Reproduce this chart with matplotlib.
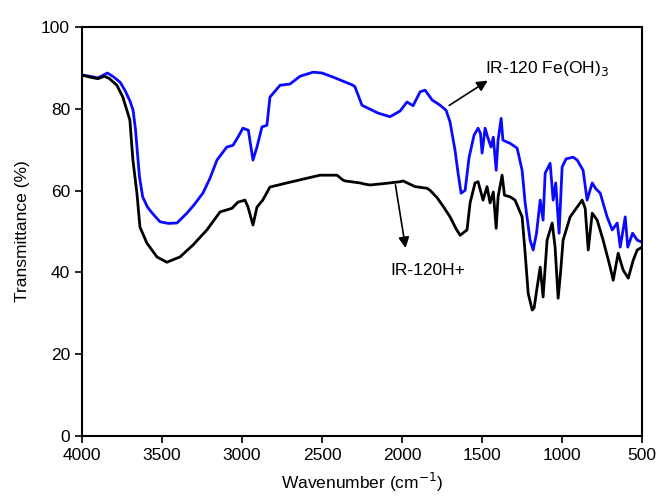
import matplotlib
matplotlib.use('Agg')
import matplotlib.pyplot as plt

plt.rcParams['font.family'] = ['Liberation Sans', 'DejaVu Sans']

## IR-120 Fe(OH)3 (blue)
wn_fe = [4000, 3950, 3900, 3870, 3840, 3800, 3760, 3730, 3700, 3680, 3665, 3650, 3640, 3620,
         3590, 3560, 3512, 3460, 3406, 3344, 3300, 3244, 3200, 3156, 3094, 3056, 3025, 2994,
         2960, 2945, 2931, 2906, 2875, 2844, 2825, 2790, 2762, 2700, 2637, 2556, 2500, 2431,
         2356, 2306, 2294, 2250, 2187, 2150, 2075, 2012, 1969, 1931, 1887, 1856, 1812, 1762,
         1725, 1700, 1669, 1650, 1631, 1606, 1581, 1550, 1525, 1510, 1500, 1481, 1465, 1444,
         1430, 1412, 1400, 1381, 1370, 1350, 1325, 1281, 1250, 1231, 1200, 1181, 1160, 1137,
         1119, 1106, 1075, 1056, 1040, 1019, 1000, 975, 931, 906, 869, 844, 812, 790, 762,
         719, 687, 656, 637, 606, 590, 560, 531, 500]
t_fe = [88.3, 88.0, 87.6, 88.2, 88.8, 87.8, 86.5, 84.5, 82.0, 79.7, 75.0, 68.0, 63.4, 58.5,
        56.0, 54.5, 52.4, 52.0, 52.1, 54.5, 56.5, 59.4, 63.0, 67.5, 70.7, 71.1, 73.1, 75.3,
        74.8, 71.0, 67.5, 70.7, 75.6, 76.0, 82.9, 84.5, 85.8, 86.1, 88.0, 89.0, 88.8, 87.8,
        86.6, 85.8, 85.4, 80.9, 79.7, 79.0, 78.1, 79.5, 81.7, 80.8, 84.2, 84.6, 82.2, 80.9,
        79.7, 76.8, 69.9, 64.3, 59.4, 60.1, 68.2, 73.6, 75.3, 74.0, 69.2, 75.3, 73.1, 70.7,
        73.1, 65.0, 72.4, 77.7, 72.4, 72.0, 71.6, 70.4, 65.0, 57.0, 47.9, 45.5, 49.6, 57.7,
        52.8, 64.3, 66.7, 57.7, 61.9, 49.6, 65.8, 67.8, 68.2, 67.5, 65.0, 57.7, 61.9, 60.5, 59.4,
        53.6, 50.4, 52.1, 46.2, 53.6, 46.2, 49.6, 47.9, 47.4]

## IR-120H+ (black)
wn_h = [4000, 3950, 3900, 3860, 3830, 3781, 3744, 3700, 3681, 3656, 3637, 3594, 3531, 3469,
        3387, 3306, 3219, 3137, 3062, 3025, 2981, 2962, 2931, 2906, 2870, 2825, 2719, 2600,
        2512, 2406, 2369, 2356, 2262, 2231, 2200, 2100, 2012, 1994, 1919, 1844, 1825, 1781,
        1740, 1700, 1660, 1637, 1594, 1575, 1544, 1525, 1494, 1469, 1450, 1430, 1412, 1400,
        1375, 1360, 1325, 1294, 1250, 1231, 1212, 1187, 1175, 1156, 1137, 1119, 1094, 1062,
        1044, 1025, 1010, 994, 950, 906, 875, 856, 837, 812, 781, 744, 700, 681, 650, 619,
        587, 556, 531, 500]
t_h = [88.3, 87.8, 87.4, 88.0, 87.5, 85.8, 82.9, 77.3, 67.5, 59.4, 51.1, 47.2, 43.8, 42.5,
       43.8, 46.7, 50.4, 54.8, 55.7, 57.2, 57.7, 56.0, 51.6, 56.0, 57.7, 60.9, 61.9, 63.0,
       63.8, 63.8, 62.6, 62.4, 61.9, 61.6, 61.4, 61.8, 62.2, 62.4, 61.0, 60.6, 60.1, 58.3,
       56.0, 53.6, 50.5, 49.1, 50.4, 57.0, 61.9, 62.2, 57.7, 61.0, 57.0, 59.7, 50.8, 58.5,
       63.8, 58.9, 58.5, 57.7, 53.6, 44.7, 34.9, 30.8, 31.3, 36.4, 41.3, 34.0, 47.9, 52.1,
       46.2, 33.7, 39.9, 47.9, 53.6, 56.0, 57.7, 55.7, 45.5, 54.5, 52.8, 47.9, 41.3, 38.1,
       44.7, 40.6, 38.6, 43.0, 45.5, 46.2]

fig = plt.figure(figsize=(6.6, 5.04), dpi=100)
ax = fig.add_axes([0.124, 0.135, 0.849, 0.811])

ax.plot(wn_fe, t_fe, color='#0a0aff', lw=2.0)
ax.plot(wn_h, t_h, color='black', lw=2.0)

ax.set_xlim(4000, 500)
ax.set_ylim(0, 100)
ax.set_xticks([4000, 3500, 3000, 2500, 2000, 1500, 1000, 500])
ax.set_yticks([0, 20, 40, 60, 80, 100])
ax.tick_params(direction='out', length=5, width=1.2, labelsize=12.5)
for s in ax.spines.values():
    s.set_linewidth(1.5)

ax.set_xlabel('Wavenumber (cm$^{-1}$)', fontsize=12.5, labelpad=6)
ax.set_ylabel('Transmittance (%)', fontsize=12.5, labelpad=8)

arr = dict(arrowstyle='-|>', color='black', lw=1.2, mutation_scale=16)
ax.annotate('', xy=(1450, 87.3), xytext=(1720, 80.5), arrowprops=arr)
ax.text(1481, 90, 'IR-120 Fe(OH)$_3$', fontsize=12.5, va='center', ha='left')
ax.annotate('', xy=(1975, 45.3), xytext=(2044, 62.1), arrowprops=arr)
ax.text(2075, 40.6, 'IR-120H+', fontsize=12.5, va='center', ha='left')

fig.savefig('out.png', dpi=100)
